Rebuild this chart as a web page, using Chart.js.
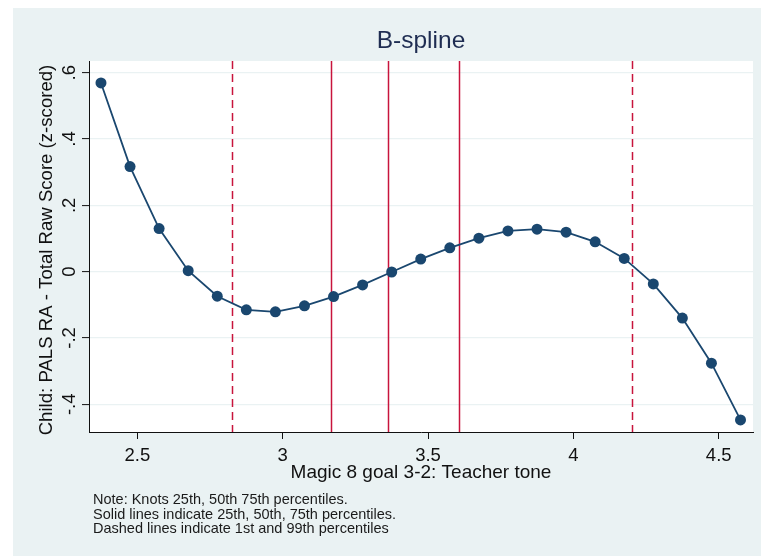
<!DOCTYPE html>
<html>
<head>
<meta charset="utf-8">
<script src="https://cdn.jsdelivr.net/npm/chart.js@4.4.1/dist/chart.umd.min.js"></script>
<style>
  html, body { margin: 0; padding: 0; background: #ffffff; }
  canvas { display: block; }
</style>
</head>
<body>
<canvas id="c" width="761" height="556"></canvas>
<script>
// ---- data ----
const xValues = [2.375, 2.475, 2.575, 2.675, 2.775, 2.875, 2.975, 3.075, 3.175, 3.275, 3.375, 3.475,
                 3.575, 3.675, 3.775, 3.875, 3.975, 4.075, 4.175, 4.275, 4.375, 4.475, 4.575];
const yValues = [0.569, 0.317, 0.130, 0.003, -0.074, -0.115, -0.121, -0.103, -0.075, -0.040, -0.001, 0.038,
                 0.072, 0.101, 0.123, 0.128, 0.119, 0.090, 0.040, -0.037, -0.140, -0.276, -0.447];
const solidKnots = [3.168, 3.362, 3.605];
const dashedKnots = [2.827, 4.201];
const xTicks = [2.5, 3, 3.5, 4, 4.5];
const xTickLabels = ['2.5', '3', '3.5', '4', '4.5'];
const yTicks = [-0.4, -0.2, 0, 0.2, 0.4, 0.6];
const yTickLabels = ['-.4', '-.2', '0', '.2', '.4', '.6'];
const titleText = 'B-spline';
const xTitle = 'Magic 8 goal 3-2: Teacher tone';
const yTitle = 'Child: PALS RA - Total Raw Score (z-scored)';
const notes = ['Note: Knots 25th, 50th 75th percentiles.',
               'Solid lines indicate 25th, 50th, 75th percentiles.',
               'Dashed lines indicate 1st and 99th percentiles'];

const FONT = 'Arial, "Liberation Sans", Helvetica, sans-serif';
const BG = '#eaf2f3';
const NAVY = '#1a476f';
const RED = '#c8143c';

const decor = {
  id: 'decor',
  beforeDraw(chart) {
    const ctx = chart.ctx, a = chart.chartArea;
    ctx.save();
    ctx.fillStyle = '#ffffff';
    ctx.fillRect(0, 0, chart.width, chart.height);
    ctx.fillStyle = BG;
    ctx.fillRect(13, 8, chart.width - 13, chart.height - 8);
    ctx.fillStyle = '#ffffff';
    ctx.fillRect(a.left, a.top, a.right - a.left, a.bottom - a.top);
    ctx.restore();
  },
  beforeDatasetsDraw(chart) {
    const ctx = chart.ctx, a = chart.chartArea, xs = chart.scales.x;
    ctx.save();
    ctx.strokeStyle = RED;
    ctx.lineWidth = 1.5;
    const drawLine = (v) => {
      const px = Math.round(xs.getPixelForValue(v)) + 0.5;
      ctx.beginPath();
      ctx.moveTo(px, a.top);
      ctx.lineTo(px, a.bottom);
      ctx.stroke();
    };
    ctx.setLineDash([]);
    solidKnots.forEach(drawLine);
    ctx.setLineDash([8, 5]);
    dashedKnots.forEach(drawLine);
    ctx.restore();
  },
  afterDraw(chart) {
    const ctx = chart.ctx, ys = chart.scales.y, a = chart.chartArea;
    ctx.save();
    // y tick labels (rotated)
    ctx.fillStyle = '#111111';
    ctx.font = '18.5px ' + FONT;
    ctx.textAlign = 'center';
    ctx.textBaseline = 'alphabetic';
    ys.ticks.forEach((t, i) => {
      const py = ys.getPixelForValue(t.value);
      ctx.save();
      ctx.translate(75, py);
      ctx.rotate(-Math.PI / 2);
      ctx.fillText(yTickLabels[yTicks.indexOf(t.value)] ?? String(t.value), 0, 0);
      ctx.restore();
    });
    // y title
    ctx.font = '18.6px ' + FONT;
    ctx.save();
    ctx.translate(51.7, 250);
    ctx.rotate(-Math.PI / 2);
    ctx.fillText(yTitle, 0, 0);
    ctx.restore();
    // notes
    ctx.font = '14.5px ' + FONT;
    ctx.textAlign = 'left';
    ctx.fillStyle = '#1a1a1a';
    const base = [504.3, 518.5, 532.7];
    notes.forEach((n, i) => ctx.fillText(n, 93, base[i]));
    ctx.restore();
  }
};

const points = xValues.map((x, i) => ({ x: x, y: yValues[i] }));

new Chart(document.getElementById('c'), {
  type: 'scatter',
  data: {
    datasets: [{
      data: points,
      showLine: true,
      borderColor: NAVY,
      backgroundColor: NAVY,
      borderWidth: 1.8,
      pointRadius: 5.5,
      pointBorderWidth: 0,
      pointBackgroundColor: NAVY,
      tension: 0
    }]
  },
  options: {
    responsive: false,
    animation: false,
    events: [],
    layout: { padding: { left: 0, right: 8, top: 0, bottom: 0 } },
    plugins: {
      legend: { display: false },
      tooltip: { enabled: false },
      title: {
        display: true,
        text: titleText,
        fullSize: false,
        color: '#1f2d52',
        font: { family: FONT, size: 24.5, weight: 'normal' },
        padding: { top: 26.3, bottom: 5.3 }
      }
    },
    scales: {
      x: {
        type: 'linear',
        min: 2.3338,
        max: 4.618,
        afterBuildTicks: (s) => { s.ticks = xTicks.map(v => ({ value: v })); },
        afterFit: (s) => { s.height = 124; },
        ticks: {
          color: '#111111',
          font: { family: FONT, size: 18.5 },
          padding: 5.5,
          maxRotation: 0,
          callback: (v) => xTickLabels[xTicks.indexOf(v)] ?? String(v)
        },
        grid: { drawOnChartArea: false, drawTicks: true, tickLength: 7, tickColor: '#111111', tickWidth: 1 },
        border: { color: '#111111', width: 1 },
        title: {
          display: true,
          text: xTitle,
          color: '#111111',
          font: { family: FONT, size: 19 },
          padding: { top: 0, bottom: 71.9 }
        }
      },
      y: {
        type: 'linear',
        min: -0.4835,
        max: 0.6353,
        afterBuildTicks: (s) => { s.ticks = yTicks.map(v => ({ value: v })); },
        afterFit: (s) => { s.width = 89; },
        ticks: { display: false },
        grid: { color: BG, lineWidth: 1.2, drawTicks: true, tickLength: 7, tickColor: '#111111', tickWidth: 1 },
        border: { color: '#111111', width: 1 }
      }
    }
  },
  plugins: [decor]
});
</script>
</body>
</html>
